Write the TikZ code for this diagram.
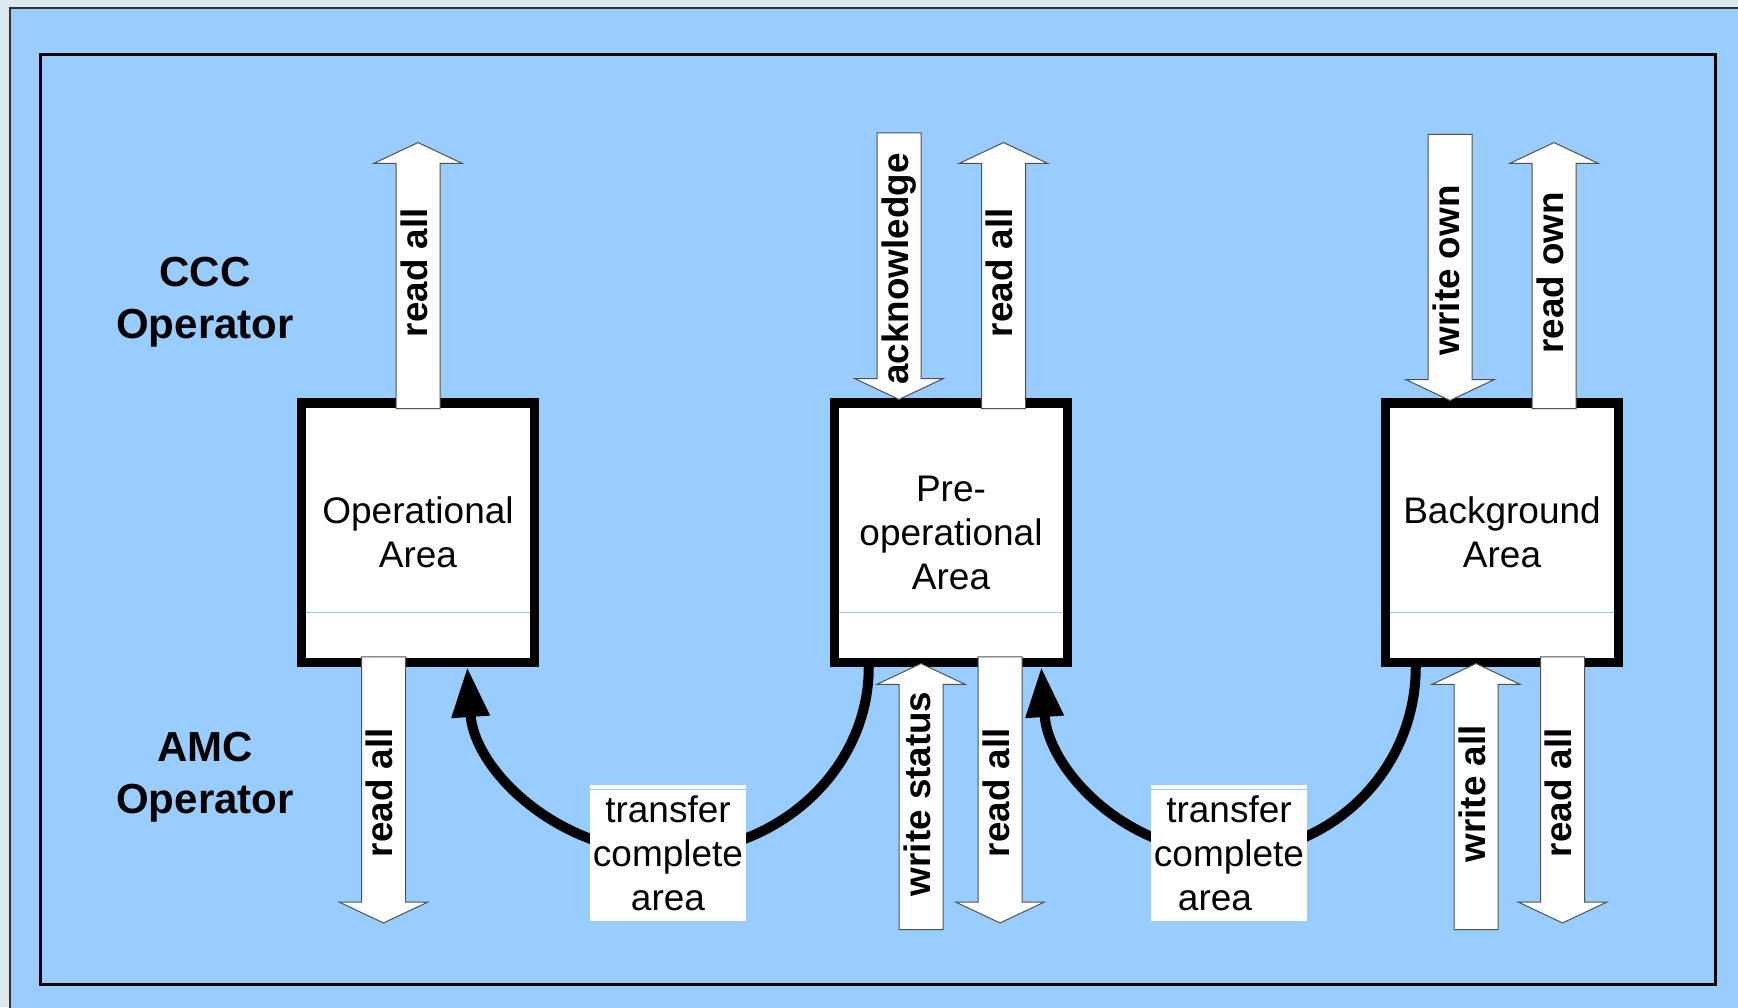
\documentclass[tikz,border=0pt]{standalone}
\usepackage{fontspec}
\setmainfont{Liberation Sans}
\usetikzlibrary{shapes.arrows,arrows.meta,calc}

\definecolor{panelblue}{RGB}{153,204,255}
\definecolor{paleframe}{RGB}{221,232,240}
\definecolor{arrowline}{RGB}{80,80,80}

\tikzset{
  areabox/.style={draw=black, line width=4.75pt, fill=white, minimum width=116.5pt, minimum height=129.75pt,
    inner sep=0pt, align=center, font=\fontsize{18.5}{22}\selectfont},
  blockarrow/.style={single arrow, draw=arrowline, line width=0.5pt, fill=white, rotate=90,
    minimum height=133pt, single arrow head extend=11pt, single arrow tip angle=129.5,
    text height=13pt, text depth=4pt, inner ysep=2.25pt, inner xsep=2pt,
    font=\fontsize{18.4}{22}\selectfont\bfseries},
  uparrow/.style={blockarrow, execute at begin node=\hspace*{8pt}},
  downarrow/.style={blockarrow, shape border rotate=180, execute at end node=\hspace*{8pt}},
  transfer/.style={line width=5pt, -{Triangle[length=25pt,width=18pt]}},
  xferlabel/.style={fill=white, minimum width=78pt, minimum height=68pt, inner sep=0pt,
    align=center, font=\fontsize{18.5}{22}\selectfont},
  rolelabel/.style={align=center, font=\fontsize{21}{26}\selectfont\bfseries},
  seam/.style={draw=panelblue, line width=0.5pt}
}

\begin{document}
\begin{tikzpicture}[x=0.5pt,y=0.5pt,yscale=-1]
\useasboundingbox (0,0) rectangle (1738,1007);

% page and panel
\fill[paleframe] (0,0) rectangle (1738,1007);
\filldraw[fill=panelblue, draw=black!80, line width=1pt] (10,7.5) rectangle (1760,1030);
\draw[line width=1.5pt] (40,54) rectangle (1715,984);

% operators
\node[rolelabel] (ccc) at (205,302) {CCC\\Operator};
\node[rolelabel] (amc) at (205,777) {AMC\\Operator};

% storage areas
\node[areabox] (op) at (418,532.5) {Operational\\Area};
\node[areabox] (preop) at (951,532.5) {Pre-\\operational\\Area};
\node[areabox] (bg) at (1502,532.5) {Background\\Area};
\foreach \b in {op,preop,bg}
  \draw[seam] ($(\b.south west)+(9.5,-55)$) -- ($(\b.south east)+(-9.5,-55)$);

% transfers
\coordinate (mid1) at (668,853);
\coordinate (mid2) at (1229,853);
\draw[transfer] ($(preop.south west)+(39,0)$) .. controls +(0,103) and +(110,0) .. (mid1)
  node[xferlabel] (xfer1) {transfer\\complete\\area}
  .. controls +(-110,0) and +(7,103) .. ($(op.south east)+(-72,0)$);
\draw[transfer] ($(bg.south west)+(35,0)$) .. controls +(0,103) and +(103,0) .. (mid2)
  node[xferlabel] (xfer2) {transfer\\complete\\area\hspace*{14pt}}
  .. controls +(-103,0) and +(7,103) .. ($(preop.south east)+(-31,0)$);
\foreach \t in {xfer1,xfer2}
  \draw[seam] ($(\t.north west)+(0,9)$) -- ($(\t.north east)+(0,9)$);

% CCC operator access
\node[uparrow, anchor=tip] (opread) at (418,142) {read all};
\node[downarrow, anchor=tip] (ack) at (899,400) {acknowledge};
\node[uparrow, anchor=tip] (preread) at (1003.5,142) {read all};
\node[downarrow, anchor=tip] (bgwrite) at (1450,401) {write own};
\node[uparrow, anchor=tip] (bgread) at (1554,142) {read own};

% AMC operator access
\node[downarrow, anchor=tip] (opamc) at (383.5,923.5) {read all};
\node[uparrow, anchor=tip] (prestat) at (921,663) {write status};
\node[downarrow, anchor=tip] (preamc) at (1000,923.5) {read all};
\node[uparrow, anchor=tip] (bgwall) at (1476,663) {write all};
\node[downarrow, anchor=tip] (bgamc) at (1562.5,923.5) {read all};
\end{tikzpicture}
\end{document}
